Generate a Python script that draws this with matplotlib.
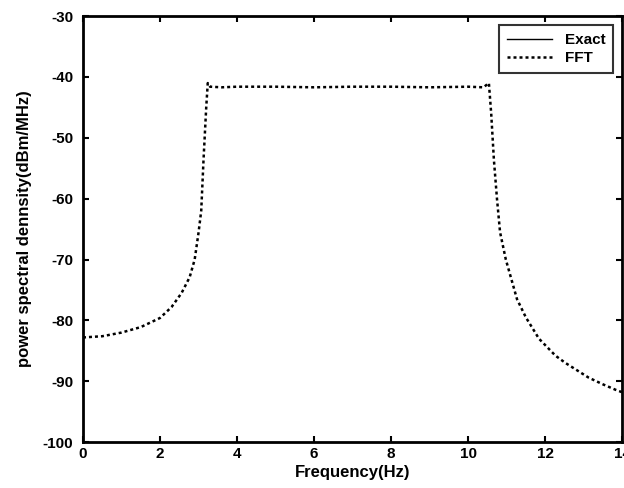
import matplotlib
matplotlib.use("Agg")
import matplotlib.pyplot as plt

plt.rcParams['font.family'] = ['Liberation Sans', 'DejaVu Sans']
plt.rcParams['font.weight'] = 'bold'
plt.rcParams['axes.unicode_minus'] = False

# FFT power spectral density
freq_fft = [0.0, 0.5, 1.0, 1.5, 2.0, 2.3, 2.56, 2.77, 2.9, 3.0, 3.07, 3.13, 3.2, 3.24,
            3.3, 3.6, 4.0, 5.0, 6.0, 7.0, 8.0, 9.0, 10.0, 10.4, 10.54,
            10.6, 10.67, 10.75, 10.83, 10.98, 11.27, 11.5, 11.84, 12.27, 12.53, 13.13, 13.5, 13.83, 14.0]
psd_fft = [-82.8, -82.6, -82.0, -81.1, -79.6, -77.8, -75.5, -72.9, -70.0, -65.6, -62.0, -53.6, -45.0, -41.0,
           -41.6, -41.7, -41.6, -41.6, -41.7, -41.6, -41.6, -41.7, -41.6, -41.7, -41.0,
           -46.0, -53.6, -60.0, -65.5, -70.0, -76.5, -79.5, -83.0, -85.8, -87.0, -89.4, -90.5, -91.4, -91.8]

# Exact curve (not visible in the scanned picture)
freq_exact = []
psd_exact = []

xticks = [0, 2, 4, 6, 8, 10, 12, 14]
yticks = [-30, -40, -50, -60, -70, -80, -90, -100]

fig = plt.figure(figsize=(6.24, 4.88), dpi=100)
ax = fig.add_axes([0.133, 0.094, 0.864, 0.873])

ax.plot(freq_exact, psd_exact, color='black', linestyle='-', linewidth=1.0, label='Exact')
ax.plot(freq_fft, psd_fft, color='black', linestyle=(0, (1.2, 1.2)), linewidth=1.8, label='FFT')

ax.set_xlim(0, 14)
ax.set_ylim(-100, -30)
ax.set_xticks(xticks)
ax.set_yticks(yticks)
ax.tick_params(direction='in', top=True, right=True, length=4, width=1.5, labelsize=11)
ax.tick_params(axis='y', pad=7)
for lab in ax.get_xticklabels() + ax.get_yticklabels():
    lab.set_fontweight('bold')
for s in ax.spines.values():
    s.set_linewidth(2.0)

ax.set_xlabel('Frequency(Hz)', fontsize=12, fontweight='bold', labelpad=3)
ax.set_ylabel('power spectral dennsity(dBm/MHz)', fontsize=12, fontweight='bold', labelpad=8)

leg = ax.legend(loc='upper right', frameon=True, fancybox=False,
                edgecolor='black', handlelength=3.0, borderaxespad=0.6,
                borderpad=0.5, labelspacing=0.3,
                prop={'weight': 'bold', 'size': 11})
leg.get_frame().set_linewidth(1.5)

fig.savefig('out.png', dpi=100)
